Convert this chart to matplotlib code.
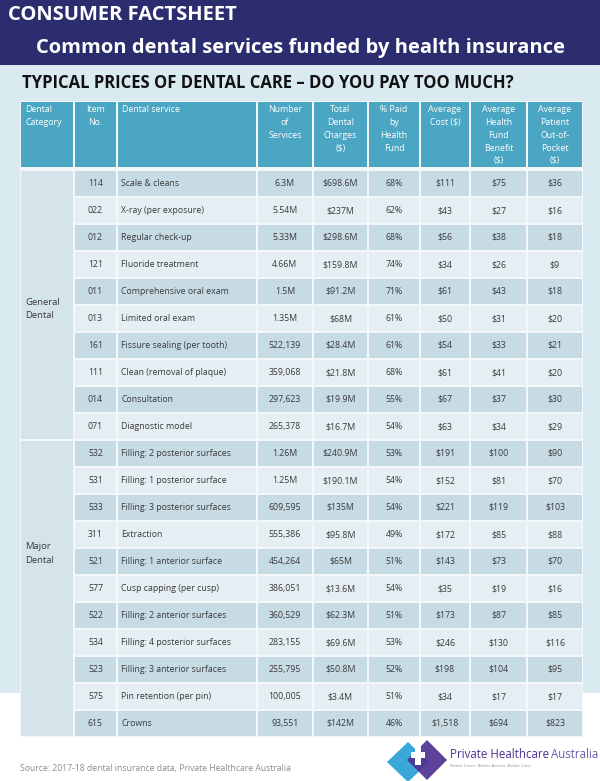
import matplotlib
matplotlib.use("Agg")
import matplotlib.pyplot as plt
import matplotlib.patches as pth

plt.rcParams['font.family'] = ['Open Sans', 'DejaVu Sans']

# data
headers = ["Dental\nCategory", "Item\nNo.", "Dental service", "Number\nof\nServices",
           "Total\nDental\nCharges\n($)", "% Paid\nby\nHealth\nFund", "Average\nCost ($)",
           "Average\nHealth\nFund\nBenefit\n($)", "Average\nPatient\nOut-of-\nPocket\n($)"]
categories = ["General\nDental", "Major\nDental"]
category_rows = [10, 11]
item_no = ["114", "022", "012", "121", "011", "013", "161", "111", "014", "071",
           "532", "531", "533", "311", "521", "577", "522", "534", "523", "575", "615"]
services = ["Scale & cleans", "X-ray (per exposure)", "Regular check-up", "Fluoride treatment",
            "Comprehensive oral exam", "Limited oral exam", "Fissure sealing (per tooth)",
            "Clean (removal of plaque)", "Consultation", "Diagnostic model",
            "Filling: 2 posterior surfaces", "Filling: 1 posterior surface",
            "Filling: 3 posterior surfaces", "Extraction", "Filling: 1 anterior surface",
            "Cusp capping (per cusp)", "Filling: 2 anterior surfaces",
            "Filling: 4 posterior surfaces", "Filling: 3 anterior surfaces",
            "Pin retention (per pin)", "Crowns"]
num_services = ["6.3M", "5.54M", "5.33M", "4.66M", "1.5M", "1.35M", "522,139", "359,068",
                "297,623", "265,378", "1.26M", "1.25M", "609,595", "555,386", "454,264",
                "386,051", "360,529", "283,155", "255,795", "100,005", "93,551"]
total_charges = ["$698.6M", "$237M", "$298.6M", "$159.8M", "$91.2M", "$68M", "$28.4M",
                 "$21.8M", "$19.9M", "$16.7M", "$240.9M", "$190.1M", "$135M", "$95.8M",
                 "$65M", "$13.6M", "$62.3M", "$69.6M", "$50.8M", "$3.4M", "$142M"]
pct_paid = ["68%", "62%", "68%", "74%", "71%", "61%", "61%", "68%", "55%", "54%",
            "53%", "54%", "54%", "49%", "51%", "54%", "51%", "53%", "52%", "51%", "46%"]
avg_cost = ["$111", "$43", "$56", "$34", "$61", "$50", "$54", "$61", "$67", "$63",
            "$191", "$152", "$221", "$172", "$143", "$35", "$173", "$246", "$198", "$34", "$1,518"]
avg_benefit = ["$75", "$27", "$38", "$26", "$43", "$31", "$33", "$41", "$37", "$34",
               "$100", "$81", "$119", "$85", "$73", "$19", "$87", "$130", "$104", "$17", "$694"]
avg_oop = ["$36", "$16", "$18", "$9", "$18", "$20", "$21", "$20", "$30", "$29",
           "$90", "$70", "$103", "$88", "$70", "$16", "$85", "$116", "$95", "$17", "$823"]

NAVY = "#2b2d6e"
BG = "#d9eaf1"
HEAD = "#4aa6c2"
ROW_DARK = "#c6dbe4"
ROW_LIGHT = "#e4eef3"
CAT = "#d5e4eb"
TXT = "#3a3a3a"

fig = plt.figure(figsize=(6, 7.81), dpi=100)
ax = fig.add_axes([0, 0, 1, 1])
ax.set_xlim(0, 600)
ax.set_ylim(781, 0)
ax.axis("off")

# background bands
ax.add_patch(pth.Rectangle((0, 65), 600, 628, facecolor=BG, edgecolor="none"))
ax.add_patch(pth.Rectangle((0, 0), 600, 65, facecolor=NAVY, edgecolor="none"))

ax.text(8, 15, "CONSUMER FACTSHEET", color="white", fontsize=14.5, fontweight="bold",
        va="center", ha="left")
ax.text(300, 48, "Common dental services funded by health insurance", color="white",
        fontsize=14.5, fontweight="bold", va="center", ha="center")
ax.text(22, 83, "TYPICAL PRICES OF DENTAL CARE \u2013 DO YOU PAY TOO MUCH?", color="#111111",
        fontsize=12, fontweight="bold", va="center", ha="left")

# table geometry
col_edges = [20, 74, 117, 257, 313, 368, 420, 470, 527, 583]
head_top, head_bot = 101, 168
row_top, row_h = 170, 27.0
gap = 1.0
n_rows = len(item_no)
cat_label_rows = [5.15, 14.2]   # where the category label sits, in rows from table top

ax.add_patch(pth.Rectangle((col_edges[0], head_top), col_edges[-1] - col_edges[0],
                           row_top + n_rows * row_h - head_top,
                           facecolor="#f3f7f9", edgecolor="none"))

# header
for j, h in enumerate(headers):
    x0, x1 = col_edges[j], col_edges[j + 1]
    ax.add_patch(pth.Rectangle((x0 + gap, head_top + gap), x1 - x0 - 2 * gap,
                               head_bot - head_top - 2 * gap, facecolor=HEAD, edgecolor="none"))
    if j in (0, 2):
        ax.text(x0 + 5, head_top + 4, h, ha="left", va="top", color="white",
                fontsize=6.3, linespacing=1.55)
    else:
        ax.text((x0 + x1) / 2, head_top + 4, h, ha="center", va="top", color="white",
                fontsize=6.3, linespacing=1.55)

# category cells
start = 0
for cat, n, lr in zip(categories, category_rows, cat_label_rows):
    y0 = row_top + start * row_h
    ax.add_patch(pth.Rectangle((col_edges[0] + gap, y0 + gap), col_edges[1] - col_edges[0] - 2 * gap,
                               n * row_h - 2 * gap, facecolor=CAT, edgecolor="none"))
    ax.text(col_edges[0] + 5, row_top + lr * row_h, cat, ha="left", va="center",
            color=TXT, fontsize=6.8, linespacing=1.7)
    start += n

# rows
columns = [item_no, services, num_services, total_charges, pct_paid, avg_cost, avg_benefit, avg_oop]
for i in range(n_rows):
    y0 = row_top + i * row_h
    fc = ROW_DARK if i % 2 == 0 else ROW_LIGHT
    for j, col in enumerate(columns):
        x0, x1 = col_edges[j + 1], col_edges[j + 2]
        ax.add_patch(pth.Rectangle((x0 + gap, y0 + gap), x1 - x0 - 2 * gap, row_h - 2 * gap,
                                   facecolor=fc, edgecolor="none"))
        if j == 1:
            ax.text(x0 + 4, y0 + row_h / 2, col[i], ha="left", va="center", color=TXT, fontsize=6.3)
        else:
            ax.text((x0 + x1) / 2, y0 + row_h / 2, col[i], ha="center", va="center",
                    color=TXT, fontsize=6.3)

# footer
ax.text(20, 768, "Source: 2017-18 dental insurance data, Private Healthcare Australia",
        color="#8c8c8c", fontsize=6.2, va="center", ha="left")

# logo
ax.add_patch(pth.Polygon([(387, 762), (408, 742), (429, 762), (408, 782)],
                         facecolor="#3aa7d9", edgecolor="none"))
ax.add_patch(pth.Polygon([(407, 760), (427, 740), (447, 760), (427, 780)],
                         facecolor="#4b2f8f", edgecolor="none", alpha=0.9))
ax.add_patch(pth.Rectangle((411, 752), 14, 6, facecolor="white", edgecolor="none"))
ax.add_patch(pth.Rectangle((415, 746), 6, 19, facecolor="white", edgecolor="none"))
t1 = ax.text(450, 754, "Private Healthcare", color="#4b2f8f", fontsize=8.3, va="center", ha="left")
ax.annotate("Australia", xy=(1, 0.5), xycoords=t1, xytext=(1.5, 0), textcoords="offset points",
            color="#6b5aa8", fontsize=8.3, va="center", ha="left")
ax.text(450, 766, "Better Cover. Better Access. Better Care.", color="#8c8c8c",
        fontsize=3.2, va="center", ha="left")

fig.savefig("out.png", dpi=100)
